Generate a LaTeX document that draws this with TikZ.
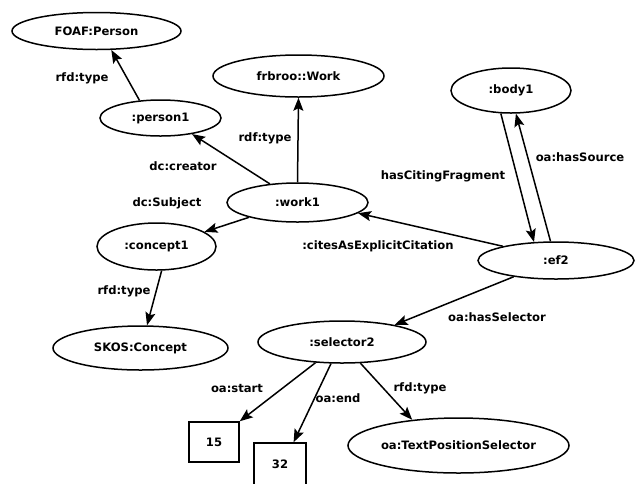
\documentclass[tikz,border=0pt]{standalone}
\usepackage{fontspec}
\setmainfont{DejaVu Sans}
\usetikzlibrary{shapes.geometric,arrows.meta}
\begin{document}
\begin{tikzpicture}[x=1pt,y=-1pt,
  every node/.style={font=\fontsize{11.6}{13}\selectfont\bfseries},
  ell/.style={draw,ellipse,line width=1.5pt,inner sep=0pt},
  sq/.style={draw,rectangle,line width=1.5pt,inner sep=0pt},
  lbl/.style={inner sep=0pt},
  edge/.style={line width=1.5pt,-{Stealth[length=13pt,width=10pt,inset=2.5pt]}}]
\path[use as bounding box] (0,0) rectangle (636,483);
\begin{scope}
\clip (0,0) rectangle (636,483);
% nodes
\node[ell,minimum width=169pt,minimum height=37pt] (foaf) at (96.5,31) {FOAF:Person};
\node[ell,minimum width=171pt,minimum height=42pt] (frbroo) at (298.5,76) {frbroo::Work};
\node[ell,minimum width=121pt,minimum height=36pt] (person1) at (160.5,118) {:person1};
\node[ell,minimum width=141pt,minimum height=39pt] (work1) at (297.5,202.5) {:work1};
\node[ell,minimum width=120pt,minimum height=45pt] (body1) at (511,90.5) {:body1};
\node[ell,minimum width=119pt,minimum height=47pt] (concept1) at (156.5,246.5) {:concept1};
\node[ell,minimum width=175pt,minimum height=44pt] (skos) at (140.5,348) {SKOS:Concept};
\node[ell,minimum width=156pt,minimum height=37pt] (ef2) at (556,260.5) {:ef2};
\node[ell,minimum width=168pt,minimum height=42pt] (selector2) at (342,342) {:selector2};
\node[ell,minimum width=221pt,minimum height=55pt] (tps) at (458.5,445.5) {oa:TextPositionSelector};
\node[sq,minimum width=50pt,minimum height=40pt] (n15) at (214,442) {15};
\node[sq,minimum width=52pt,minimum height=42pt] (n32) at (280,464) {32};
% edges
\draw[edge] (person1.140) -- (foaf.-52);
\draw[edge] (work1.146.5) -- (person1.-27.6);
\draw[edge] (work1.north) -- (frbroo.south);
\draw[edge] (work1.197.7) -- (concept1.17.7);
\draw[edge] (ef2.165) -- (work1.-10.3);
\draw[edge] (body1.-114) -- (ef2.140.6);
\draw[edge] (ef2.106.3) -- (body1.-78.5);
\draw[edge] (ef2.201) -- (selector2.18.8);
\draw[edge] (selector2.-142.1) -- (n15.north east);
\draw[edge] (selector2.-117.6) -- (n32.58.2);
\draw[edge] (selector2.-49) -- (tps.151.7);
\draw[edge] (concept1.-78.3) -- (skos.74.2);
% labels
\node[lbl] (l1) at (82,78) {rfd:type};
\node[lbl] (l2) at (265,138) {rdf:type};
\node[lbl] (l3) at (183,166) {dc:creator};
\node[lbl] (l4) at (167,203) {dc:Subject};
\node[lbl] (l5) at (443,176) {hasCitingFragment};
\node[lbl] (l6) at (580,157) {oa:hasSource};
\node[lbl] (l7) at (378,246) {:citesAsExplicitCitation};
\node[lbl] (l8) at (124,291) {rfd:type};
\node[lbl] (l9) at (497,317) {oa:hasSelector};
\node[lbl] (l10) at (237,388) {oa:start};
\node[lbl] (l11) at (338,398) {oa:end};
\node[lbl] (l12) at (420,388) {rfd:type};
\end{scope}
\end{tikzpicture}
\end{document}
